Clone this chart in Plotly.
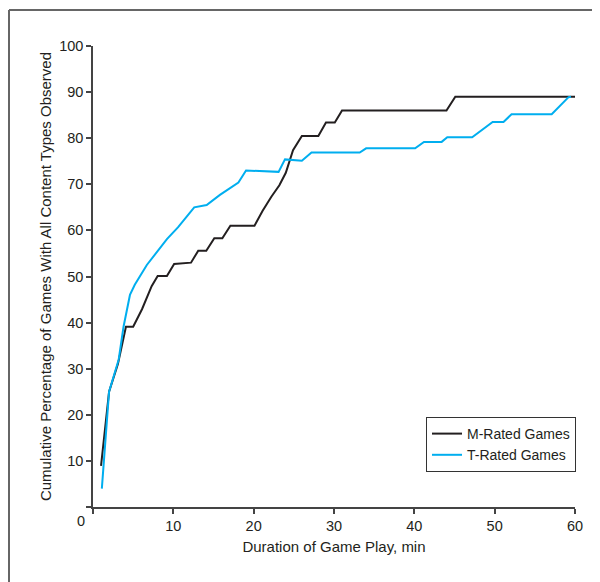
import plotly.graph_objects as go

# M-Rated Games (black)
m_minutes = [1.0, 2.0, 3.1, 4.1, 5.0, 6.1, 7.3, 8.05, 9.2, 10.1, 12.2, 13.1, 14.1, 15.1, 16.1, 17.1,
             20.1, 21.1, 22.2, 23.2, 24.0, 24.9, 26.0, 28.05, 29.0, 30.1, 31.0, 44.0, 45.1, 60.0]
m_percent = [8.9, 25.0, 31.0, 39.1, 39.1, 42.9, 47.9, 50.1, 50.1, 52.7, 53.0, 55.6, 55.6, 58.3, 58.3, 61.0,
             61.0, 64.2, 67.3, 69.8, 72.5, 77.4, 80.5, 80.5, 83.4, 83.4, 86.0, 86.0, 89.0, 89.0]

# T-Rated Games (blue)
t_minutes = [1.1, 2.0, 3.2, 3.8, 4.6, 5.2, 6.7, 8.1, 9.2, 10.6, 12.6, 14.15, 15.8, 18.1, 19.05, 23.1,
             23.9, 26.0, 27.2, 33.2, 34.0, 40.1, 41.2, 43.4, 44.1, 47.2, 49.75, 51.1, 52.1, 57.1, 59.2, 59.5]
t_percent = [4.0, 25.0, 32.0, 39.1, 46.0, 48.2, 52.5, 55.7, 58.1, 60.7, 65.0, 65.5, 67.7, 70.4, 73.0, 72.7,
             75.4, 75.1, 76.9, 76.9, 77.8, 77.8, 79.2, 79.2, 80.2, 80.2, 83.5, 83.5, 85.2, 85.2, 88.9, 89.0]

x_ticks = [0, 10, 20, 30, 40, 50, 60]
x_labels = ["", "10", "20", "30", "40", "50", "60"]
y_ticks = [0, 10, 20, 30, 40, 50, 60, 70, 80, 90, 100]
y_labels = [""] + [str(v) for v in y_ticks[1:]]

FONT = "Liberation Sans, Arial, sans-serif"
TXT = "#231f20"

fig = go.Figure()
fig.add_trace(go.Scatter(x=m_minutes, y=m_percent, mode="lines", name="M-Rated Games",
                         line=dict(color="#231f20", width=2)))
fig.add_trace(go.Scatter(x=t_minutes, y=t_percent, mode="lines", name="T-Rated Games",
                         line=dict(color="#00aeef", width=2)))

OFF = 8  # page body margin
W, H = 600 - OFF, 582 - OFF
L, T = 93 - OFF, 46 - OFF
pw, ph = 482, 461
R, B = W - L - pw, H - T - ph

def px(xs):
    return (xs - OFF - L) / pw

def py(ys):
    return (T + ph - (ys - OFF)) / ph

fig.update_layout(
    width=W, height=H,
    margin=dict(l=L, r=R, t=T, b=B, autoexpand=False),
    paper_bgcolor="white", plot_bgcolor="white",
    font=dict(family=FONT, size=14, color=TXT),
    showlegend=True,
    legend=dict(x=px(576), xanchor="right", y=py(472), yanchor="bottom",
                bordercolor="#333333", borderwidth=1, bgcolor="white",
                font=dict(family=FONT, size=14, color=TXT),
                itemwidth=30, tracegroupgap=0),
    xaxis=dict(range=[0, 60], tickvals=x_ticks, ticktext=x_labels, automargin=False,
               showgrid=False, zeroline=False, showline=True, linecolor="#444444", linewidth=1.5,
               ticks="outside", ticklen=5, tickcolor="#444444", tickwidth=1.5,
               tickfont=dict(family=FONT, size=14.5, color=TXT),
               title=dict(text="Duration of Game Play, min", standoff=8,
                          font=dict(family=FONT, size=15, color=TXT))),
    yaxis=dict(range=[0, 100], tickvals=y_ticks, ticktext=y_labels, automargin=False,
               showgrid=False, zeroline=False, showline=True, linecolor="#444444", linewidth=1.5,
               ticks="outside", ticklen=5, tickcolor="#444444", tickwidth=1.5,
               tickfont=dict(family=FONT, size=14.5, color=TXT),
               title=dict(text="Cumulative Percentage of Games With All Content Types Observed",
                          standoff=4, font=dict(family=FONT, size=15, color=TXT))),
    annotations=[dict(x=px(81), y=py(521), xref="paper", yref="paper", text="0",
                      xanchor="center", yanchor="middle",
                      showarrow=False, font=dict(family=FONT, size=14.5, color=TXT))],
    shapes=[
        dict(type="line", xref="paper", yref="paper", x0=px(9), x1=px(601), y0=py(10), y1=py(10),
             line=dict(color="#666666", width=2)),
        dict(type="line", xref="paper", yref="paper", x0=px(9), x1=px(9), y0=py(10), y1=py(583),
             line=dict(color="#666666", width=2)),
    ],
)

fig.write_html("out.html")
